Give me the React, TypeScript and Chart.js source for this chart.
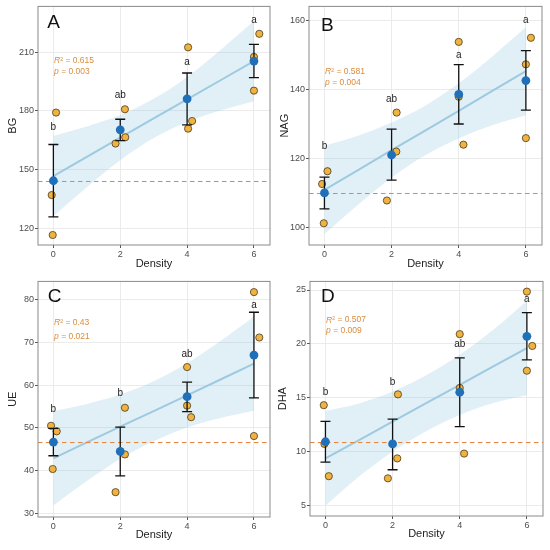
import { useEffect, useRef } from "react";
import { Chart, registerables } from "chart.js";

Chart.register(...registerables);

// shared x values
const densities = [0, 2, 4, 6];
const fitX = [0, 1, 2, 3, 4, 5, 6];

// A: BG
const bgPointX = [-0.05, 0.08, -0.02, 1.86, 2.14, 2.15, 4.03, 4.03, 4.15, 6.0, 6.16, 6.0];
const bgPointY = [137.0, 179.1, 116.6, 163.3, 180.8, 166.5, 212.4, 170.9, 174.8, 207.5, 219.3, 190.3];
const bgMean = [144.3, 170.3, 186.1, 205.4];
const bgLow = [125.9, 164.8, 172.8, 196.9];
const bgHigh = [162.8, 175.7, 199.3, 213.9];
const bgLetters = ["b", "ab", "a", "a"];
const bgLetterY = [171.8, 187.9, 204.6, 226.1];
const bgFit = [146.7, 156.5, 166.3, 176.1, 185.8, 195.6, 205.4];
const bgCiLow = [126.2, 141.0, 154.8, 166.1, 174.3, 180.1, 184.9];
const bgCiHigh = [167.2, 172.0, 177.8, 186.1, 197.3, 211.1, 225.9];
const bgTicks = [120, 150, 180, 210];

// B: NAG
const nagPointX = [-0.07, 0.09, -0.02, 1.86, 2.14, 2.15, 4.0, 4.0, 4.14, 6.0, 6.15, 6.0];
const nagPointY = [112.6, 116.3, 101.2, 107.8, 122.0, 133.3, 153.8, 137.9, 124.0, 147.3, 155.0, 125.9];
const nagMean = [110.0, 121.0, 138.6, 142.6];
const nagLow = [105.4, 113.7, 130.0, 134.0];
const nagHigh = [114.6, 128.5, 147.2, 151.3];
const nagLetters = ["b", "ab", "a", "a"];
const nagLetterY = [123.6, 137.2, 150.0, 160.1];
const nagFit = [110.9, 116.6, 122.4, 128.1, 133.8, 139.6, 145.3];
const nagCiLow = [98.1, 106.6, 114.4, 120.9, 125.8, 129.6, 132.5];
const nagCiHigh = [123.7, 126.6, 130.4, 135.3, 141.8, 149.6, 158.1];
const nagTicks = [100, 120, 140, 160];

// C: UE
const uePointX = [-0.07, 0.1, -0.02, 1.86, 2.14, 2.14, 4.0, 4.0, 4.12, 6.0, 6.16, 6.0];
const uePointY = [50.5, 49.2, 40.4, 35.0, 54.7, 43.8, 64.2, 55.2, 52.5, 81.7, 71.1, 48.1];
const ueMean = [46.7, 44.5, 57.3, 67.0];
const ueLow = [43.5, 38.8, 53.8, 57.0];
const ueHigh = [49.9, 50.2, 60.7, 77.0];
const ueLetters = ["b", "b", "ab", "a"];
const ueLetterY = [54.3, 58.0, 67.2, 78.6];
const ueFit = [42.9, 46.6, 50.3, 53.9, 57.6, 61.3, 65.0];
const ueCiLow = [31.9, 37.6, 42.8, 46.9, 50.1, 52.3, 54.0];
const ueCiHigh = [53.9, 55.6, 57.8, 60.9, 65.1, 70.3, 76.0];
const ueTicks = [30, 40, 50, 60, 70, 80];

// D: DHA
const dhaPointX = [-0.05, -0.03, 0.1, 1.86, 2.14, 2.16, 4.0, 4.0, 4.13, 6.0, 6.16, 6.0];
const dhaPointY = [14.3, 10.7, 7.7, 7.5, 9.35, 15.3, 20.9, 15.9, 9.8, 24.85, 19.8, 17.5];
const dhaMean = [10.9, 10.7, 15.5, 20.7];
const dhaLow = [9.0, 8.3, 12.3, 18.5];
const dhaHigh = [12.8, 13.0, 18.7, 22.9];
const dhaLetters = ["b", "b", "ab", "a"];
const dhaLetterY = [15.5, 16.4, 20.0, 24.1];
const dhaFit = [9.35, 11.06, 12.77, 14.48, 16.19, 17.9, 19.61];
const dhaCiLow = [4.95, 7.66, 9.97, 11.88, 13.39, 14.5, 15.21];
const dhaCiHigh = [13.75, 14.46, 15.57, 17.08, 18.99, 21.3, 24.01];
const dhaTicks = [5, 10, 15, 20, 25];

const FONT = "'Liberation Sans', Arial, sans-serif";

const panels = [
  {
    tag: "A", yTitle: "BG", r2: "0.615", p: "0.003", control: 144.3,
    px: bgPointX, py: bgPointY, mean: bgMean, low: bgLow, high: bgHigh,
    letters: bgLetters, letterY: bgLetterY, fit: bgFit, ciLow: bgCiLow, ciHigh: bgCiHigh,
    ticks: bgTicks, yMin: 111.5, yMax: 233.3,
    statY: [205.8, 200.0], tagX: -0.18, tagY: 224.9,
    top: 6, right: 5, yWidth: 38, xHeight: 30, yPad: 6, xPad: 4,
  },
  {
    tag: "B", yTitle: "NAG", r2: "0.581", p: "0.004", control: 110.0,
    px: nagPointX, py: nagPointY, mean: nagMean, low: nagLow, high: nagHigh,
    letters: nagLetters, letterY: nagLetterY, fit: nagFit, ciLow: nagCiLow, ciHigh: nagCiHigh,
    ticks: nagTicks, yMin: 94.9, yMax: 164.1,
    statY: [145.3, 142.0], tagX: -0.1, tagY: 158.4,
    top: 5, right: 8, yWidth: 34, xHeight: 30, yPad: 3, xPad: 4,
  },
  {
    tag: "C", yTitle: "UE", r2: "0.43", p: "0.021", control: 46.8,
    px: uePointX, py: uePointY, mean: ueMean, low: ueLow, high: ueHigh,
    letters: ueLetters, letterY: ueLetterY, fit: ueFit, ciLow: ueCiLow, ciHigh: ueCiHigh,
    ticks: ueTicks, yMin: 29.2, yMax: 84.2,
    statY: [74.5, 71.4], tagX: -0.17, tagY: 80.5,
    top: 4, right: 5, yWidth: 38, xHeight: 33, yPad: 6, xPad: 8,
  },
  {
    tag: "D", yTitle: "DHA", r2: "0.507", p: "0.009", control: 10.9,
    px: dhaPointX, py: dhaPointY, mean: dhaMean, low: dhaLow, high: dhaHigh,
    letters: dhaLetters, letterY: dhaLetterY, fit: dhaFit, ciLow: dhaCiLow, ciHigh: dhaCiHigh,
    ticks: dhaTicks, yMin: 4.0, yMax: 25.8,
    statY: [22.2, 21.2], tagX: -0.13, tagY: 24.36,
    top: 4, right: 7, yWidth: 35, xHeight: 34, yPad: 1, xPad: 9,
  },
];

type Panel = (typeof panels)[number];

// draws control line, error bars, border and text labels
const overlay = {
  id: "overlay",
  beforeDatasetDraw(chart: any, args: any, opts: any) {
    if (args.index !== 1) return;
    const p: Panel = opts.panel;
    const { ctx, chartArea } = chart;
    const y = Math.round(chart.scales.y.getPixelForValue(p.control)) + 0.5;
    ctx.save();
    ctx.strokeStyle = "#E5853F";
    ctx.lineWidth = 1.2;
    ctx.setLineDash([4.5, 3.5]);
    ctx.beginPath();
    ctx.moveTo(chartArea.left, y);
    ctx.lineTo(chartArea.right, y);
    ctx.stroke();
    ctx.restore();
  },
  afterDatasetDraw(chart: any, args: any, opts: any) {
    if (args.index !== 1) return;
    const p: Panel = opts.panel;
    const { ctx } = chart;
    const xs = chart.scales.x;
    const ys = chart.scales.y;
    ctx.save();
    ctx.strokeStyle = "#111";
    ctx.lineWidth = 1.3;
    densities.forEach((d, i) => {
      const x = xs.getPixelForValue(d);
      const y1 = ys.getPixelForValue(p.low[i]);
      const y2 = ys.getPixelForValue(p.high[i]);
      ctx.beginPath();
      ctx.moveTo(x, y1);
      ctx.lineTo(x, y2);
      ctx.moveTo(x - 5, y1);
      ctx.lineTo(x + 5, y1);
      ctx.moveTo(x - 5, y2);
      ctx.lineTo(x + 5, y2);
      ctx.stroke();
    });
    ctx.restore();
  },
  afterDraw(chart: any, _args: any, opts: any) {
    const p: Panel = opts.panel;
    const { ctx, chartArea } = chart;
    const xs = chart.scales.x;
    const ys = chart.scales.y;
    ctx.save();
    ctx.strokeStyle = "#8a8a8a";
    ctx.lineWidth = 1;
    ctx.strokeRect(chartArea.left, chartArea.top, chartArea.right - chartArea.left, chartArea.bottom - chartArea.top);

    ctx.fillStyle = "#222";
    ctx.font = `10px ${FONT}`;
    ctx.textAlign = "center";
    ctx.textBaseline = "middle";
    p.letters.forEach((t, i) => {
      ctx.fillText(t, xs.getPixelForValue(densities[i]), ys.getPixelForValue(p.letterY[i]));
    });

    ctx.textAlign = "left";
    ctx.font = `19px ${FONT}`;
    ctx.fillStyle = "#111";
    ctx.fillText(p.tag, xs.getPixelForValue(p.tagX), ys.getPixelForValue(p.tagY));

    ctx.fillStyle = "#D98C3E";
    const sx = xs.getPixelForValue(0.02);
    let y = ys.getPixelForValue(p.statY[0]);
    ctx.font = `italic 8.5px ${FONT}`;
    ctx.fillText("R", sx, y);
    let w = ctx.measureText("R").width;
    ctx.font = `8.5px ${FONT}`;
    ctx.fillText("\u00B2 = " + p.r2, sx + w, y);
    y = ys.getPixelForValue(p.statY[1]);
    ctx.font = `italic 8.5px ${FONT}`;
    ctx.fillText("p", sx, y);
    w = ctx.measureText("p").width;
    ctx.font = `8.5px ${FONT}`;
    ctx.fillText(" = " + p.p, sx + w, y);
    ctx.restore();
  },
};

function PanelChart({ p }: { p: Panel }) {
  const ref = useRef<HTMLCanvasElement | null>(null);

  useEffect(() => {
    if (!ref.current) return;
    const grid = { color: "#EBEBEB", lineWidth: 1, tickLength: 3, tickColor: "#555", drawTicks: true };
    const tickFont = { family: FONT, size: 9 };
    const chart = new Chart(ref.current, {
      type: "scatter",
      data: {
        datasets: [
          {
            type: "scatter",
            data: densities.map((x, i) => ({ x, y: p.mean[i] })),
            pointRadius: 4.4,
            backgroundColor: "#1F70B8",
            borderWidth: 0,
            order: 1,
          },
          {
            type: "scatter",
            data: p.px.map((x, i) => ({ x, y: p.py[i] })),
            pointRadius: 3.6,
            backgroundColor: "#F0B240",
            borderColor: "#4a3b1c",
            borderWidth: 0.8,
            order: 2,
          },
          {
            type: "line",
            data: fitX.map((x, i) => ({ x, y: p.fit[i] })),
            borderColor: "#9ECAE1",
            borderWidth: 2,
            pointRadius: 0,
            fill: false,
            order: 3,
          },
          {
            type: "line",
            data: fitX.map((x, i) => ({ x, y: p.ciHigh[i] })),
            borderColor: "transparent",
            backgroundColor: "rgba(120,180,220,0.22)",
            pointRadius: 0,
            fill: "+1",
            cubicInterpolationMode: "monotone",
            order: 4,
          },
          {
            type: "line",
            data: fitX.map((x, i) => ({ x, y: p.ciLow[i] })),
            borderColor: "transparent",
            pointRadius: 0,
            fill: false,
            cubicInterpolationMode: "monotone",
            order: 5,
          },
        ],
      } as any,
      options: {
        responsive: false,
        animation: false,
        layout: { padding: { top: p.top, right: p.right, left: 0, bottom: 0 } },
        plugins: {
          legend: { display: false },
          tooltip: { enabled: false },
          overlay: { panel: p },
        } as any,
        scales: {
          x: {
            type: "linear",
            min: -0.46,
            max: 6.48,
            afterBuildTicks: (s: any) => {
              s.ticks = densities.map((v) => ({ value: v }));
            },
            afterFit: (s: any) => {
              s.height = p.xHeight;
            },
            grid,
            border: { display: false },
            ticks: { color: "#4D4D4D", font: tickFont, padding: 1, maxRotation: 0, callback: (v: any) => String(v) },
            title: {
              display: true,
              text: "Density",
              color: "#222",
              font: { family: FONT, size: 11 },
              padding: { top: 0, bottom: p.xPad },
            },
          },
          y: {
            type: "linear",
            min: p.yMin,
            max: p.yMax,
            afterBuildTicks: (s: any) => {
              s.ticks = p.ticks.map((v) => ({ value: v }));
            },
            afterFit: (s: any) => {
              s.width = p.yWidth;
            },
            grid,
            border: { display: false },
            ticks: { color: "#4D4D4D", font: tickFont, padding: 1, callback: (v: any) => String(v) },
            title: {
              display: true,
              text: p.yTitle,
              color: "#222",
              font: { family: FONT, size: 11 },
              padding: { top: p.yPad, bottom: 0 },
            },
          },
        },
      },
      plugins: [overlay as any],
    });
    return () => chart.destroy();
  }, [p]);

  return (
    <canvas
      ref={ref}
      width={275}
      height={275}
      style={{ display: "block", width: 275, height: 275 }}
      role="img"
      aria-label={p.yTitle + " vs density"}
    ></canvas>
  );
}

export default function App() {
  return (
    <div
      style={{
        position: "absolute",
        left: 0,
        top: 0,
        width: 550,
        height: 550,
        background: "#fff",
        display: "grid",
        gridTemplateColumns: "275px 275px",
        gridTemplateRows: "275px 275px",
      }}
    >
      {panels.map((p) => (
        <PanelChart key={p.tag} p={p} />
      ))}
    </div>
  );
}
